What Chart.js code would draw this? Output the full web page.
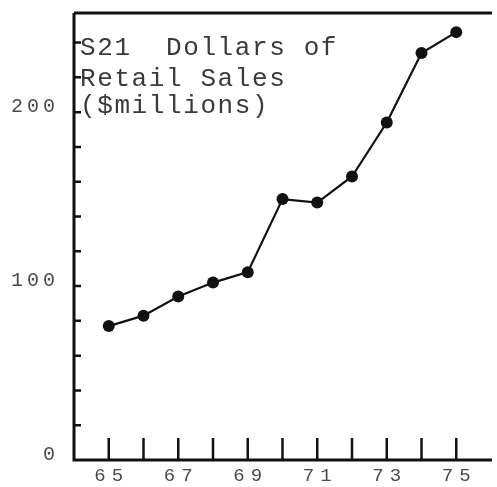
<!DOCTYPE html>
<html>
<head>
<meta charset="utf-8">
<script src="https://cdn.jsdelivr.net/npm/chart.js@4"></script>
<style>
  html, body { margin: 0; padding: 0; background: #fff; }
  #wrap { width: 497px; height: 487px; }
</style>
</head>
<body>
<div id="wrap"><canvas id="salesChart"></canvas></div>
<script>
const years = [65, 66, 67, 68, 69, 70, 71, 72, 73, 74, 75];
const sales = [77, 83, 94, 102, 108, 150, 148, 163, 194, 234, 246];

const xTickMarks = [65, 66, 67, 68, 69, 70, 71, 72, 73, 74, 75];
const xTickLabels = ['65', '67', '69', '71', '73', '75'];
const yTickMarks = [20, 40, 60, 80, 100, 120, 140, 160, 180, 200, 220, 240];
const yTickLabels = ['0', '100', '200'];
const titleLines = ['S21  Dollars of', 'Retail Sales', '($millions)'];

const ink = '#111';
const grey = '#4a4a4a';

// draws the frame, inward ticks, spaced typewriter labels and the caption
const typewriter = {
  id: 'typewriter',
  afterDraw(chart) {
    const { ctx, chartArea: a, scales: { x, y } } = chart;
    ctx.save();
    ctx.strokeStyle = ink;
    ctx.lineCap = 'butt';

    // frame: top, left, bottom
    ctx.lineWidth = 3;
    ctx.beginPath();
    ctx.moveTo(a.left, a.top); ctx.lineTo(a.right + 1, a.top);
    ctx.moveTo(a.left, a.top); ctx.lineTo(a.left, a.bottom);
    ctx.lineTo(a.right + 1, a.bottom);
    ctx.stroke();

    // x ticks pointing up
    ctx.lineWidth = 2.5;
    ctx.beginPath();
    xTickMarks.forEach(v => {
      const px = x.getPixelForValue(v);
      ctx.moveTo(px, a.bottom); ctx.lineTo(px, a.bottom - 22);
    });
    ctx.stroke();

    // y ticks pointing right
    ctx.beginPath();
    yTickMarks.forEach(v => {
      const py = y.getPixelForValue(v);
      ctx.moveTo(a.left, py); ctx.lineTo(a.left + 7, py);
    });
    ctx.stroke();

    ctx.fillStyle = grey;
    ctx.textBaseline = 'middle';

    // x labels
    ctx.font = '19px "Liberation Mono", monospace';
    ctx.letterSpacing = '6px';
    xTickLabels.forEach(t => {
      const w = ctx.measureText(t).width - 6;
      ctx.fillText(t, x.getPixelForValue(+t) - w / 2, a.bottom + 16);
    });

    // y labels
    ctx.font = '20px "Liberation Mono", monospace';
    ctx.letterSpacing = '4px';
    yTickLabels.forEach(t => {
      const w = ctx.measureText(t).width - 4;
      ctx.fillText(t, 55 - w, y.getPixelForValue(+t) - 5);
    });

    // caption
    ctx.fillStyle = '#3a3a3a';
    ctx.textBaseline = 'alphabetic';
    ctx.font = '26px "Liberation Mono", monospace';
    ctx.letterSpacing = '1.6px';
    const base = [55, 86, 113];
    titleLines.forEach((t, i) => ctx.fillText(t, a.left + 6, base[i]));

    ctx.restore();
  }
};

new Chart(document.getElementById('salesChart'), {
  type: 'line',
  data: {
    datasets: [{
      data: years.map((yr, i) => ({ x: yr, y: sales[i] })),
      borderColor: ink,
      borderWidth: 2.2,
      pointRadius: 6,
      pointBackgroundColor: ink,
      pointBorderWidth: 0,
      tension: 0,
      fill: false
    }]
  },
  options: {
    responsive: true,
    maintainAspectRatio: false,
    animation: false,
    events: [],
    layout: { padding: { top: 13, right: 1, left: 0, bottom: 0 } },
    plugins: {
      legend: { display: false },
      tooltip: { enabled: false }
    },
    scales: {
      x: {
        type: 'linear',
        min: 64,
        max: 76,
        grid: { display: false },
        border: { display: false },
        ticks: { display: false },
        afterFit: s => { s.height = 27; }
      },
      y: {
        min: 0,
        max: 257,
        grid: { display: false },
        border: { display: false },
        ticks: { display: false },
        afterFit: s => { s.width = 74; }
      }
    }
  },
  plugins: [typewriter]
});
</script>
</body>
</html>
